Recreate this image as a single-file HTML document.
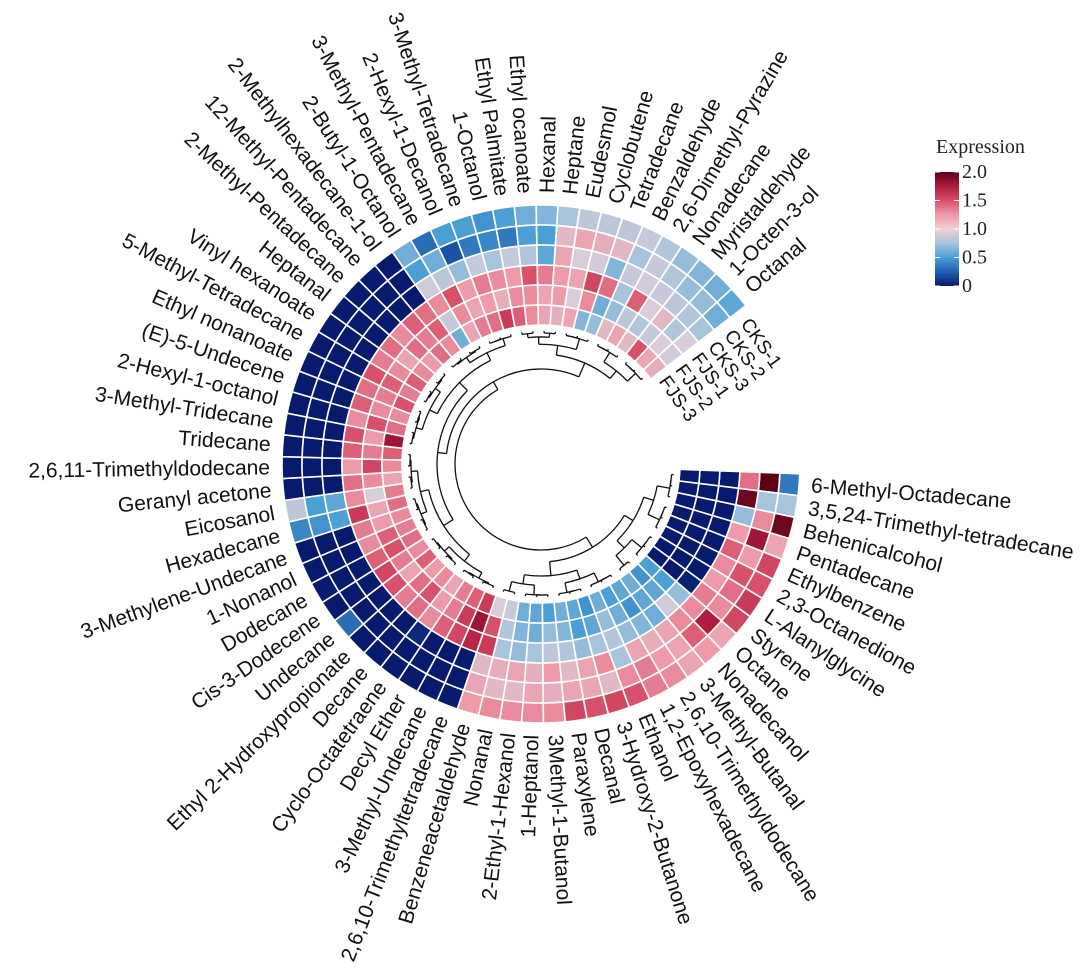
<!DOCTYPE html>
<html><head><meta charset="utf-8"><style>
html,body{margin:0;padding:0;background:#fff;}
svg{display:block;}
text{font-family:"Liberation Sans",Arial,sans-serif;}
</style></head><body>
<svg id="chart" width="1080" height="975" viewBox="0 0 1080 975" xmlns="http://www.w3.org/2000/svg">
<g id="dendro" fill="none" stroke="#111" stroke-width="1.3"></g>
<g id="cells"></g>
<g id="labels"></g>
<g id="ringlabels"></g>
<g id="legend">
  <defs><linearGradient id="lg" x1="0" y1="1" x2="0" y2="0">
    <stop offset="0" stop-color="#081a6e"/><stop offset="0.125" stop-color="#2160b0"/><stop offset="0.25" stop-color="#4a9fd4"/><stop offset="0.375" stop-color="#a8c4dc"/><stop offset="0.5" stop-color="#f2d0d4"/><stop offset="0.625" stop-color="#ee9aa8"/><stop offset="0.75" stop-color="#d9506a"/><stop offset="0.875" stop-color="#b01c3c"/><stop offset="1" stop-color="#5c0018"/>
  </linearGradient></defs>
  <text x="936" y="153" font-size="20" style="font-family:'Liberation Serif',serif" fill="#222">Expression</text>
  <rect x="935" y="172" width="24" height="114" fill="url(#lg)"/>
  <g id="legticks"></g>
</g>
</svg>
<script>
const names = ["6-Methyl-Octadecane","3,5,24-Trimethyl-tetradecane","Behenicalcohol","Pentadecane","Ethylbenzene","2,3-Octanedione","L-Alanylglycine","Styrene","Octane","Nonadecanol","3-Methyl-Butanal","2,6,10-Trimethyldodecane","1,2-Epoxyhexadecane","Ethanol","3-Hydroxy-2-Butanone","Decanal","Paraxylene","3Methyl-1-Butanol","1-Heptanol","2-Ethyl-1-Hexanol","Nonanal","Benzeneacetaldehyde","2,6,10-Trimethyltetradecane","3-Methyl-Undecane","Decyl Ether","Cyclo-Octatetraene","Decane","Ethyl 2-Hydroxypropionate","Undecane","Cis-3-Dodecene","Dodecane","1-Nonanol","3-Methylene-Undecane","Hexadecane","Eicosanol","Geranyl acetone","2,6,11-Trimethyldodecane","Tridecane","3-Methyl-Tridecane","2-Hexyl-1-octanol","(E)-5-Undecene","Ethyl nonanoate","5-Methyl-Tetradecane","Vinyl hexanoate","Heptanal","2-Methyl-Pentadecane","12-Methyl-Pentadecane","2-Methylhexadecane-1-ol","2-Butyl-1-Octanol","3-Methyl-Pentadecane","2-Hexyl-1-Decanol","3-Methyl-Tetradecane","1-Octanol","Ethyl Palmitate","Ethyl ocanoate","Hexanal","Heptane","Eudesmol","Cyclobutene","Tetradecane","Benzaldehyde","2,6-Dimethyl-Pyrazine","Nonadecane","Myristaldehyde","1-Octen-3-ol","Octanal"];
const samples = ["CKS-1","CKS-2","CKS-3","FJS-1","FJS-2","FJS-3"];
// per-sample value arrays (outer ring CKS-1 to inner FJS-3), one value per compound
const cks1 = [0.35,0.75,1.95,1.2,1.55,1.5,1.6,1.55,1.2,1.25,1.2,1.3,1.35,1.5,1.55,1.5,1.55,1.3,1.3,1.3,1.3,1.25,0,0,0,0,0,0,0.3,0,0,0,0,0.4,0.85,0,0,0,0,0,0,0,0,0,0,0,0,0,0.6,0.3,0.5,0.5,0.45,0.5,0.6,0.65,0.75,0.85,0.85,0.85,0.9,0.8,0.7,0.65,0.6,0.55];
const cks2 = [2.0,0.75,1.3,1.8,1.25,1.5,1.4,1.3,1.75,1.45,1.2,1.25,1.35,1.3,1.1,1.2,1.2,1.15,1.2,1.1,1.1,1.2,0,0,0,0,0,0,0,0,0,0,0,0.45,0.5,0,0,0,0,0,0,0,0,0,0,0,0,0,0.5,0.6,0.2,0.35,0.4,0.35,0.5,0.5,1.1,1.2,1.15,1.1,0.75,0.9,0.8,0.7,0.7,0.6];
const cks3 = [1.4,1.95,0.7,1.25,1.45,1.3,1.25,1.35,1.3,1.3,1.2,1.15,1.2,0.75,1.3,1.2,1.1,1.25,1.15,1.2,1.15,1.1,0,0,0,0.05,0,0,0,0,0,0,0,0.5,0.55,0,0,0,0,0,0,0,0,0,0,0,0,0,0.95,0.85,0.7,0.9,0.75,0.9,0.8,0.55,1.2,1.0,0.95,0.65,0.9,0.95,0.9,0.85,0.8,0.75];
const fjs1 = [0,0,0,0,0,0,0,0.02,0.7,0.95,0.6,0.65,0.7,0.8,0.75,0.7,0.8,0.85,0.75,0.7,0.75,1.6,1.7,1.55,1.45,1.3,1.4,1.35,1.5,1.55,1.45,1.3,1.35,1.6,1.3,1.4,1.25,1.45,1.5,1.3,1.45,1.4,1.5,1.35,1.4,1.3,1.45,1.4,1.3,1.5,1.25,1.35,1.3,1.25,1.5,1.35,1.25,1.2,1.55,1.4,0.75,1.45,1.0,1.1,0.8,1.0];
const fjs2 = [0,0,0,0,0,0,0,0,0.5,0.55,0.55,0.45,0.6,0.7,0.55,0.5,0.65,0.7,0.6,0.65,0.8,1.5,1.8,1.6,1.35,1.25,1.5,1.4,1.2,1.35,1.5,1.45,1.25,1.2,1.0,1.3,1.55,1.35,1.25,1.5,1.3,1.35,1.45,1.3,1.2,1.4,1.35,1.45,0.9,1.3,1.2,1.25,1.15,1.3,1.3,1.2,1.25,1.0,1.3,0.6,0.7,0.85,0.8,0.9,1.0,0.95];
const fjs3 = [0,0,0,0,0,0,0,0,0.5,0.45,0.6,0.55,0.5,0.6,0.45,0.55,0.6,0.5,0.55,0.6,0.9,1.0,1.6,1.45,1.35,1.2,1.3,1.25,1.45,1.3,1.4,1.35,1.3,1.4,1.35,1.2,1.3,1.45,1.8,1.4,1.3,1.5,1.35,1.45,1.3,1.25,1.4,1.3,0.6,1.2,1.35,1.4,1.6,1.45,1.3,1.2,1.15,1.2,0.65,0.7,1.1,1.2,1.1,1.5,1.2,1.15];
const legendTicks = [0,0.5,1.0,1.5,2.0];
const legendTickLabels = ["0","0.5","1.0","1.5","2.0"];

const series = [cks1,cks2,cks3,fjs1,fjs2,fjs3];
const CX=541, CY=464, R0=139, RW=20, A0=4.6, STEP=4.85;
const NS="http://www.w3.org/2000/svg";
const stops=[[0,[8,26,110]],[0.25,[33,96,176]],[0.5,[74,159,212]],[0.75,[168,196,220]],[1.0,[218,204,216]],[1.25,[238,154,168]],[1.5,[217,80,106]],[1.75,[176,28,60]],[2.0,[92,0,24]]];
function color(v){v=Math.max(0,Math.min(2,v));for(let i=0;i<stops.length-1;i++){const [a,ca]=stops[i],[b,cb]=stops[i+1];if(v<=b){const t=(v-a)/(b-a);return 'rgb('+ca.map((c,k)=>Math.round(c+(cb[k]-c)*t)).join(',')+')';}}return 'rgb(92,0,24)';}
function ang(i){return A0+i*STEP;}
function pt(r,deg){const a=deg*Math.PI/180;return [CX+r*Math.cos(a),CY+r*Math.sin(a)];}
function sector(r1,r2,a1,a2){const p1=pt(r2,a1),p2=pt(r2,a2),p3=pt(r1,a2),p4=pt(r1,a1);return `M${p1[0]},${p1[1]}A${r2},${r2} 0 0 1 ${p2[0]},${p2[1]}L${p3[0]},${p3[1]}A${r1},${r1} 0 0 0 ${p4[0]},${p4[1]}Z`;}
const cells=document.getElementById('cells');
series.forEach((arr,s)=>{
  const rOut=R0+RW*(6-s), rIn=rOut-RW;
  arr.forEach((v,i)=>{
    const p=document.createElementNS(NS,'path');
    p.setAttribute('d',sector(rIn,rOut,ang(i)-STEP/2,ang(i)+STEP/2));
    p.setAttribute('fill',color(v));p.setAttribute('stroke','#fff');p.setAttribute('stroke-width','1.6');
    
    
    cells.appendChild(p);
  });
});
const labels=document.getElementById('labels');
names.forEach((n,i)=>{
  const a=ang(i), [x,y]=pt(271,a);
  const t=document.createElementNS(NS,'text');
  let norm=((a%360)+360)%360, left=norm>90&&norm<270;
  t.setAttribute('x',x);t.setAttribute('y',y);
  t.setAttribute('transform',`rotate(${left?a+180:a} ${x} ${y})`);
  t.setAttribute('text-anchor',left?'end':'start');
  t.setAttribute('dominant-baseline','central');
  t.setAttribute('font-size','21');t.setAttribute('fill','#111');
  t.textContent=n;
  
  
  labels.appendChild(t);
});
const rl=document.getElementById('ringlabels');
samples.forEach((s,k)=>{
  const r=R0+RW*(6-k)-RW/2, a=ang(names.length-1)+STEP/2+2.6, [x,y]=pt(r,a);
  const t=document.createElementNS(NS,'text');
  t.setAttribute('x',x);t.setAttribute('y',y);
  t.setAttribute('transform',`rotate(${a+90} ${x} ${y})`);
  t.setAttribute('dominant-baseline','central');t.setAttribute('font-size','19');t.setAttribute('fill','#111');
  t.textContent=s;
  
  
  rl.appendChild(t);
});
// dendrogram
const dg=document.getElementById('dendro');
const LEAF_R=133;
function line(d){const p=document.createElementNS(NS,'path');p.setAttribute('d',d);
  
  
  dg.appendChild(p);}
function arc(r,a1,a2){const p1=pt(r,a1),p2=pt(r,a2);return `M${p1[0]},${p1[1]}A${r},${r} 0 ${Math.abs(a2-a1)>180?1:0} 1 ${p2[0]},${p2[1]}`;}
function build(lo,hi,rNode){
  if(lo===hi) return ang(lo);
  const mid=Math.floor((lo+hi)/2);
  const kids=[[lo,mid],[mid+1,hi]].map(([a,b])=>{
    const sz=b-a+1; const r=sz===1?LEAF_R:Math.min(LEAF_R-2, rNode+4+ (LEAF_R-rNode)*0.25 + (sz<4?6:0));
    const an=build(a,b,r); return [an,r];
  });
  line(arc(rNode,kids[0][0],kids[1][0]));
  kids.forEach(([an,r])=>{const p1=pt(rNode,an),p2=pt(r,an);line(`M${p1[0]},${p1[1]}L${p2[0]},${p2[1]}`);});
  return (kids[0][0]+kids[1][0])/2;
}
function group(ranges,rNode){
  const kids=ranges.map(([a,b,r])=>[build(a,b,r),r]);
  line(arc(rNode,kids[0][0],kids[kids.length-1][0]));
  kids.forEach(([an,r])=>{const p1=pt(rNode,an),p2=pt(r,an);line(`M${p1[0]},${p1[1]}L${p2[0]},${p2[1]}`);});
  return (kids[0][0]+kids[kids.length-1][0])/2;
}
const aL=group([[0,10,108],[11,21,112]],98);
const aR=group([[22,52,104],[53,65,110]],95);
line(arc(86,aL,aR));
[[aL,98],[aR,95]].forEach(([an,r])=>{const p1=pt(86,an),p2=pt(r,an);line(`M${p1[0]},${p1[1]}L${p2[0]},${p2[1]}`);});
// legend ticks
const lt=document.getElementById('legticks');
const ly=v=>286-v/2*114;
legendTicks.forEach((v,i)=>{
  const y=ly(v);
  const t=document.createElementNS(NS,'text');
  t.setAttribute('x',962);t.setAttribute('y',y);t.setAttribute('dominant-baseline','central');
  t.setAttribute('font-size','20');t.setAttribute('style',"font-family:'Liberation Serif',serif");t.setAttribute('fill','#222');
  t.textContent=legendTickLabels[i];
  
  
  lt.appendChild(t);
  [[935,940],[954,959]].forEach(([x1,x2])=>{const l=document.createElementNS(NS,'line');
    l.setAttribute('x1',x1);l.setAttribute('x2',x2);l.setAttribute('y1',y);l.setAttribute('y2',y);l.setAttribute('stroke','#fff');l.setAttribute('stroke-width','1');
    
    
    lt.appendChild(l);});
});
</script>
</body></html>
